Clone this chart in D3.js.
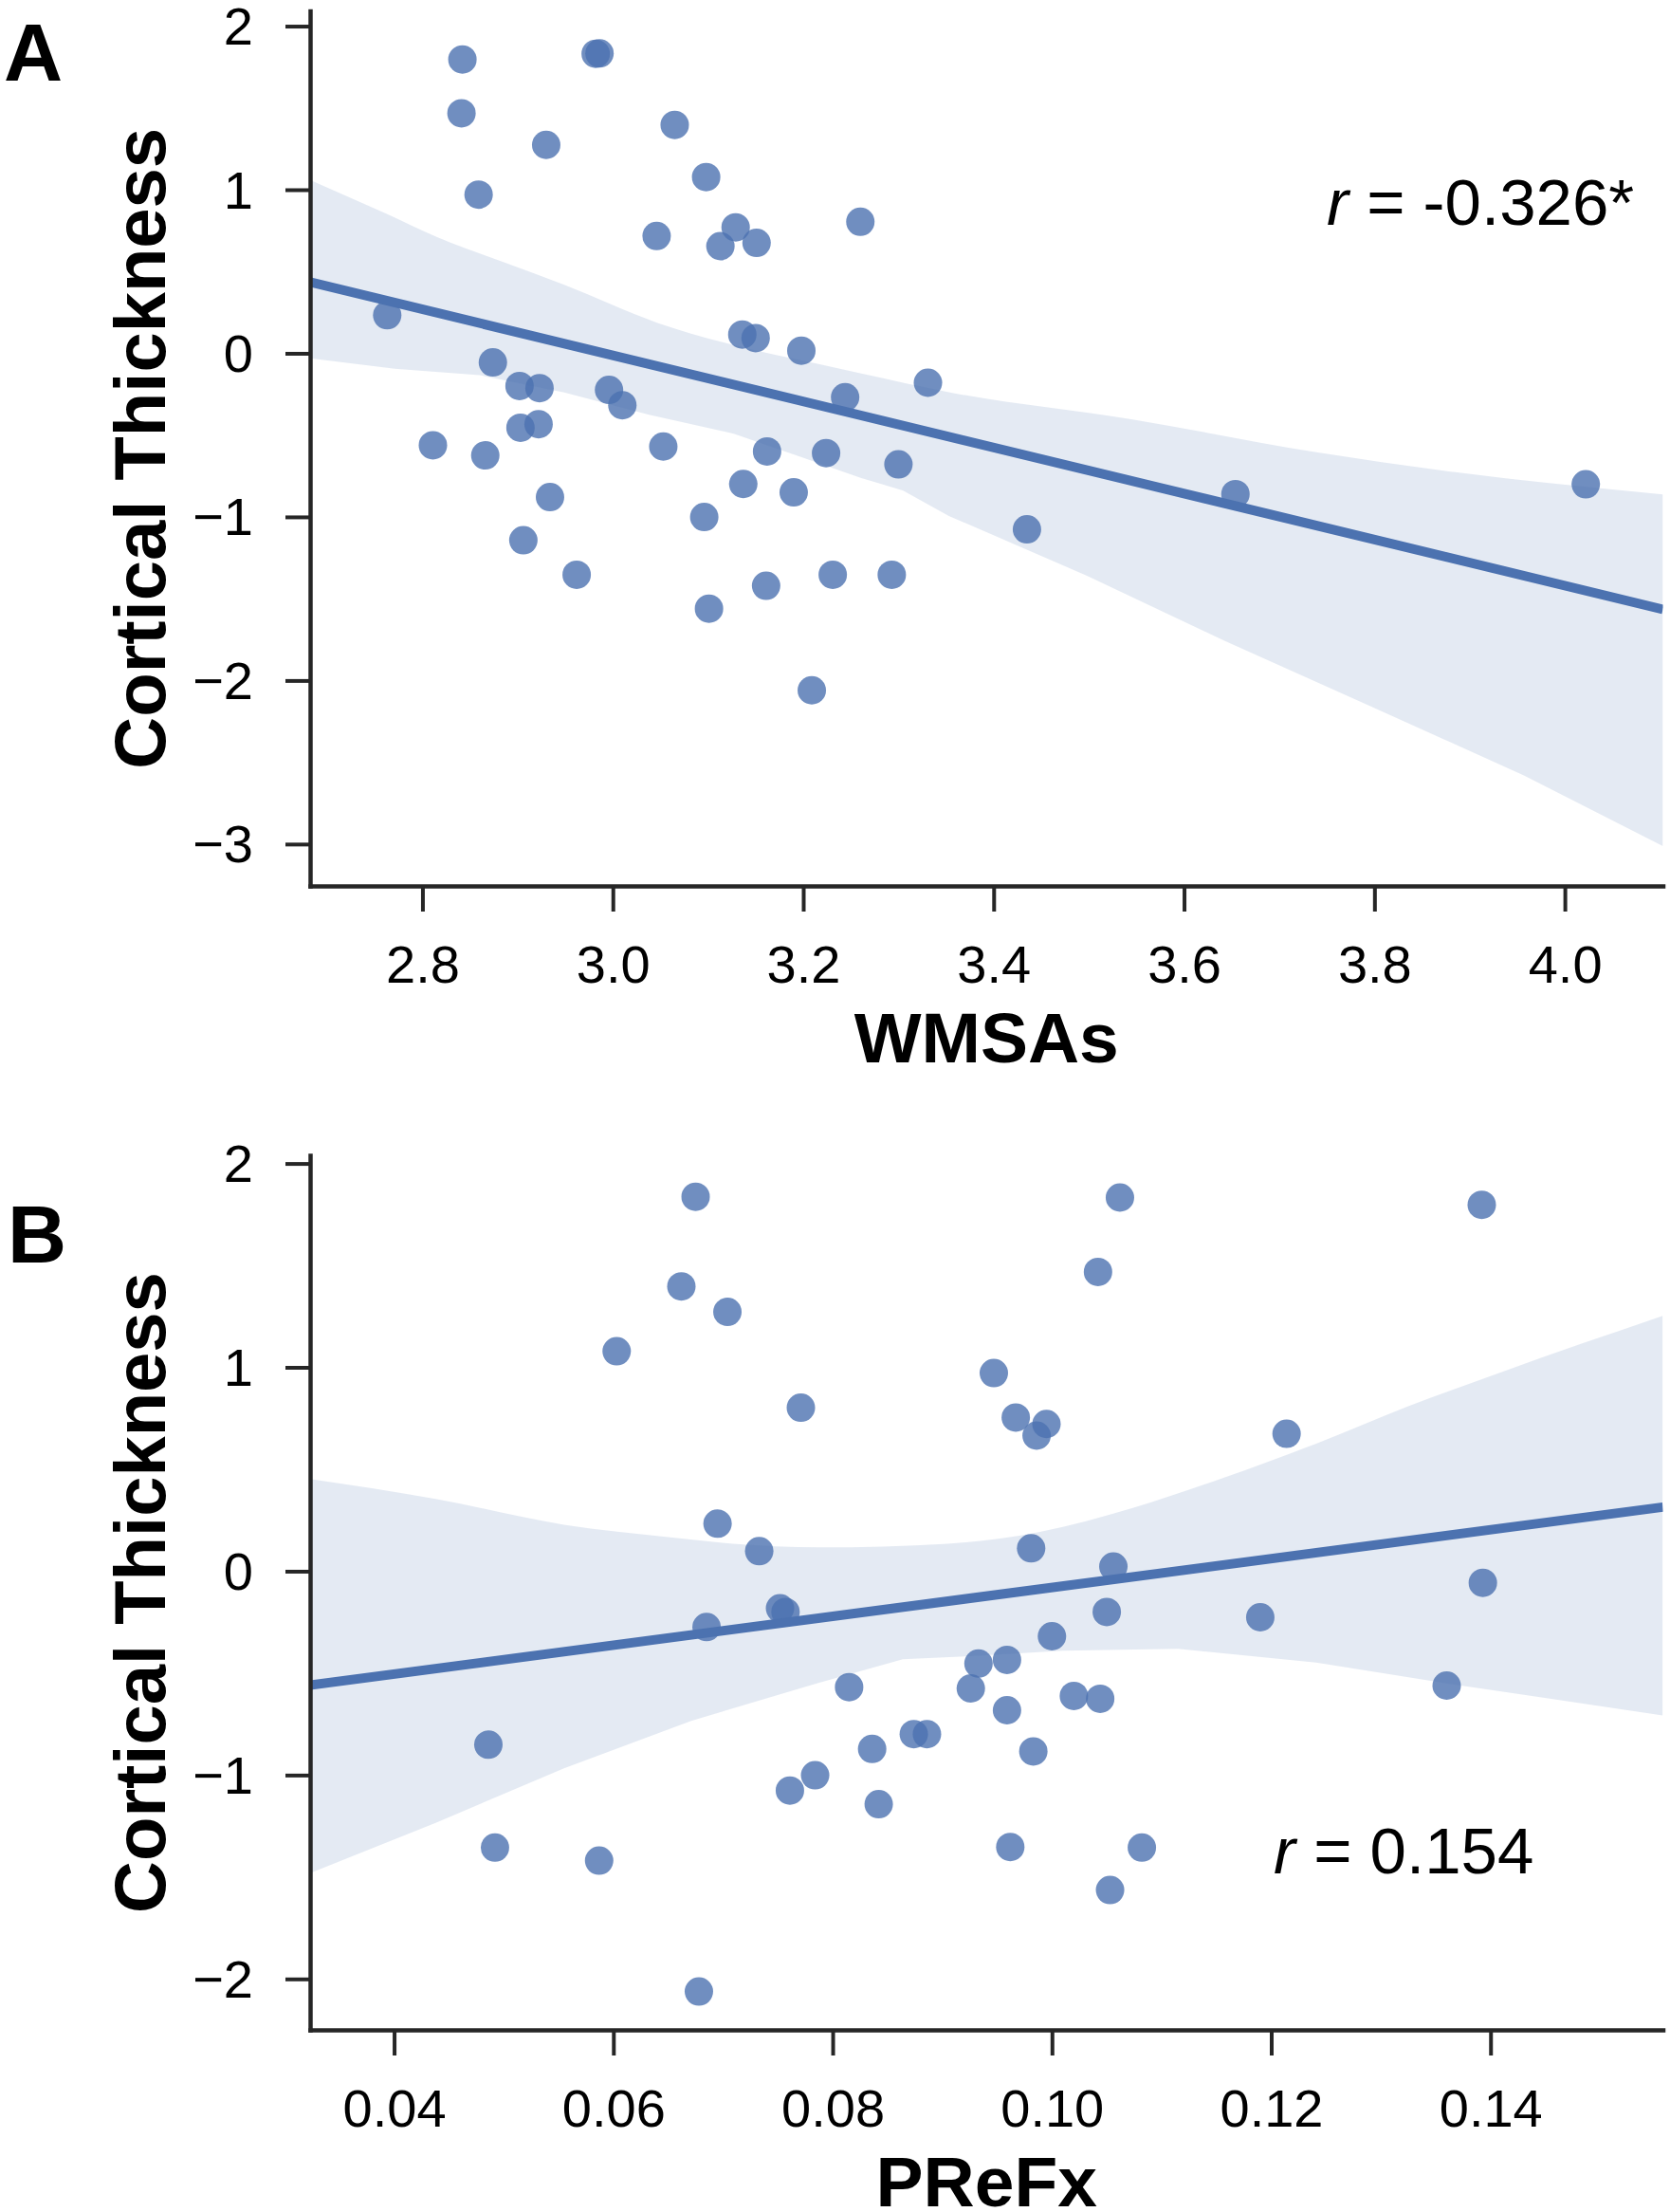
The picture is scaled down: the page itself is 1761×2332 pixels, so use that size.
<!DOCTYPE html>
<html>
<head>
<meta charset="utf-8">
<script src="https://cdn.jsdelivr.net/npm/d3@7"></script>
<style>
  html, body { margin: 0; padding: 0; background: #ffffff; }
  svg { display: block; }
  text { font-family: "Liberation Sans", Arial, Helvetica, sans-serif; fill: #000; }
</style>
</head>
<body>
<svg id="chart" width="1761" height="2332"></svg>
<script>
// ---------------- DATA ----------------
// Panel A: WMSAs vs Cortical Thickness
const wmsas = [2.763, 2.842, 2.841, 2.859, 2.811, 2.874, 2.866, 2.902, 2.923, 2.903,
  2.922, 2.930, 2.934, 2.906, 2.982, 2.986, 2.962, 2.996, 3.010, 3.046,
  3.053, 3.065, 3.098, 3.096, 3.101, 3.113, 3.129, 3.151, 3.136, 3.150,
  3.137, 3.162, 3.161, 3.198, 3.190, 3.209, 3.224, 3.244, 3.231, 3.260,
  3.300, 3.293, 3.331, 3.435, 3.654, 4.022];
const thicknessA = [0.233, 1.796, 1.467, 0.970, -0.562, -0.056, -0.624, -0.200, -0.213, -0.455,
  -0.433, 1.274, -0.879, -1.143, 1.831, 1.833, -1.354, -0.224, -0.317, 0.717,
  -0.570, 1.396, 1.077, -1.001, -1.561, 0.655, 0.770, 0.675, 0.115, 0.093,
  -0.799, -0.600, -1.421, 0.016, -0.850, -2.060, -0.610, -0.269, -1.354, 0.804,
  -0.679, -1.354, -0.180, -1.076, -0.861, -0.801];

// Panel B: PReFx vs Cortical Thickness
const prefx = [0.0675, 0.1062, 0.1392, 0.1042, 0.0662, 0.0704, 0.0603, 0.0947, 0.0771, 0.0967,
  0.0995, 0.0986, 0.1214, 0.0695, 0.0981, 0.0733, 0.1056, 0.1393, 0.0752, 0.0757,
  0.1050, 0.1190, 0.0685, 0.1000, 0.0959, 0.0933, 0.1360, 0.0815, 0.0926, 0.1020,
  0.1044, 0.0959, 0.0874, 0.0886, 0.0486, 0.0836, 0.0983, 0.0784, 0.0761, 0.0842,
  0.0492, 0.0962, 0.1082, 0.0587, 0.1053, 0.0678];
const thicknessB = [1.837, 1.833, 1.797, 1.468, 1.397, 1.272, 1.079, 0.972, 0.802, 0.754,
  0.722, 0.665, 0.674, 0.233, 0.112, 0.098, 0.023, -0.057, -0.182, -0.200,
  -0.200, -0.226, -0.274, -0.319, -0.435, -0.453, -0.561, -0.569, -0.575, -0.612,
  -0.626, -0.682, -0.799, -0.799, -0.851, -0.872, -0.884, -1.001, -1.076, -1.143,
  -1.356, -1.353, -1.356, -1.420, -1.564, -2.062];

// 95% confidence band edges
const bandAUpperX = [2.682, 2.762, 2.816, 2.887, 2.949, 3.047, 3.127, 3.216, 3.261, 3.353, 3.546, 3.739, 3.885, 4.103];
const bandAUpperY = [1.060, 0.853, 0.708, 0.553, 0.418, 0.186, 0.050, -0.066, -0.124, -0.238, -0.405, -0.605, -0.727, -0.862];
const bandALowerX = [2.682, 2.771, 2.860, 2.949, 3.038, 3.127, 3.194, 3.261, 3.305, 3.353, 3.498, 3.643, 3.788, 3.957, 4.103];
const bandALowerY = [-0.031, -0.095, -0.133, -0.240, -0.375, -0.491, -0.626, -0.762, -0.839, -0.994, -1.360, -1.759, -2.137, -2.580, -3.013];

const bandBUpperX = [0.0323, 0.0439, 0.0555, 0.0652, 0.0709, 0.0787, 0.0905, 0.0989, 0.1073, 0.1157, 0.1241, 0.1325, 0.1409, 0.1557];
const bandBUpperY = [0.452, 0.353, 0.228, 0.166, 0.135, 0.117, 0.135, 0.193, 0.309, 0.459, 0.626, 0.809, 0.975, 1.252];
const bandBLowerX = [0.0323, 0.0439, 0.0555, 0.0671, 0.0787, 0.0864, 0.0929, 0.1010, 0.1115, 0.1241, 0.1367, 0.1451, 0.1557];
const bandBLowerY = [-1.482, -1.232, -0.967, -0.734, -0.548, -0.432, -0.416, -0.390, -0.381, -0.448, -0.556, -0.623, -0.707];

// Tick values and labels
const ticksAX = [2.8, 3.0, 3.2, 3.4, 3.6, 3.8, 4.0];
const ticksAXLabels = ["2.8", "3.0", "3.2", "3.4", "3.6", "3.8", "4.0"];
const ticksAY = [2, 1, 0, -1, -2, -3];
const ticksAYLabels = ["2", "1", "0", "\u22121", "\u22122", "\u22123"];
const ticksBX = [0.04, 0.06, 0.08, 0.10, 0.12, 0.14];
const ticksBXLabels = ["0.04", "0.06", "0.08", "0.10", "0.12", "0.14"];
const ticksBY = [2, 1, 0, -1, -2];
const ticksBYLabels = ["2", "1", "0", "\u22121", "\u22122"];

const panelLabels = ["A", "B"];
const xTitles = ["WMSAs", "PReFx"];
const yTitle = "Cortical Thickness";
const rValues = ["-0.326*", "0.154"];

// ---------------- DRAWING ----------------
const BLUE = "#4C72B0";
const AXIS = "#262626";
const svg = d3.select("#chart");
svg.append("rect").attr("width", 1761).attr("height", 2332).attr("fill", "#fff");

function ols(xs, ys) {
  const n = xs.length;
  const mx = d3.mean(xs), my = d3.mean(ys);
  let sxy = 0, sxx = 0;
  for (let i = 0; i < n; i++) { sxy += (xs[i] - mx) * (ys[i] - my); sxx += (xs[i] - mx) ** 2; }
  const b = sxy / sxx;
  return { b: b, a: my - b * mx };
}

function drawPanel(cfg) {
  const x = d3.scaleLinear().domain(cfg.xDomain).range([cfg.left, cfg.right]);
  const y = d3.scaleLinear().domain(cfg.yDomain).range([cfg.bottom, cfg.top]);
  const g = svg.append("g");

  const clipId = "clip" + cfg.id;
  svg.append("clipPath").attr("id", clipId).append("rect")
    .attr("x", cfg.left).attr("y", cfg.top)
    .attr("width", cfg.right - cfg.left).attr("height", cfg.bottom - cfg.top);
  const plot = g.append("g").attr("clip-path", `url(#${clipId})`);

  // scatter
  const pts = cfg.xs.map((v, i) => [v, cfg.ys[i]]);
  plot.append("g").selectAll("circle").data(pts).join("circle")
    .attr("cx", d => x(d[0])).attr("cy", d => y(d[1])).attr("r", 15)
    .attr("fill", BLUE).attr("fill-opacity", 0.8);

  // confidence band
  const up = cfg.bandUX.map((v, i) => [v, cfg.bandUY[i]]);
  const lo = cfg.bandLX.map((v, i) => [v, cfg.bandLY[i]]).reverse();
  const lineGen = d3.line().x(d => x(d[0])).y(d => y(d[1])).curve(d3.curveMonotoneX);
  const lineGenR = d3.line().x(d => x(d[0])).y(d => y(d[1]));
  const upPath = lineGen(up);
  const loPath = lineGenR(lo).replace(/^M/, "L");
  plot.append("path").attr("d", upPath + loPath + "Z")
    .attr("fill", BLUE).attr("fill-opacity", 0.15).attr("stroke", "none");

  // regression line
  const fit = ols(cfg.xs, cfg.ys);
  const dom = cfg.xDomain;
  plot.append("path")
    .attr("d", d3.line().x(d => x(d)).y(d => y(fit.a + fit.b * d))([dom[0], dom[1]]))
    .attr("stroke", BLUE).attr("stroke-width", 10).attr("fill", "none");

  // axes
  const xAxis = d3.axisBottom(x).tickValues(cfg.xTicks)
    .tickFormat((d, i) => cfg.xTickLabels[i]).tickSizeInner(27).tickSizeOuter(0).tickPadding(35);
  const gx = g.append("g").attr("transform", `translate(0,${cfg.bottom})`).call(xAxis);
  const yAxis = d3.axisLeft(y).tickValues(cfg.yTicks)
    .tickFormat((d, i) => cfg.yTickLabels[i]).tickSizeInner(26).tickSizeOuter(0).tickPadding(34);
  const gy = g.append("g").attr("transform", `translate(${cfg.left},0)`).call(yAxis);

  [gx, gy].forEach(ax => {
    ax.select(".domain").attr("stroke", AXIS).attr("stroke-width", 4.5);
    ax.selectAll(".tick line").attr("stroke", AXIS).attr("stroke-width", 4);
    ax.selectAll(".tick text").attr("font-size", 56).attr("fill", "#000")
      .attr("font-family", "'Liberation Sans', Arial, sans-serif");
  });
  gy.selectAll(".tick text").attr("dy", "0.34em");
  gx.select(".domain").attr("stroke-linecap", "square");
  gy.select(".domain").attr("stroke-linecap", "square");

  // titles
  g.append("text").attr("x", (cfg.left + cfg.right) / 2).attr("y", cfg.bottom + 186)
    .attr("text-anchor", "middle").attr("font-size", 75).attr("font-weight", "bold")
    .text(cfg.xTitle);
  const yc = (cfg.top + cfg.bottom) / 2;
  g.append("text").attr("transform", `translate(174,${yc}) rotate(-90)`)
    .attr("text-anchor", "middle").attr("font-size", 76).attr("font-weight", "bold")
    .text(yTitle);
  g.append("text").attr("x", cfg.labelX).attr("y", cfg.labelY)
    .attr("font-size", 86).attr("font-weight", "bold").text(cfg.label);

  // r annotation
  const t = g.append("text").attr("x", cfg.rX).attr("y", cfg.rY).attr("font-size", 69);
  t.append("tspan").attr("font-style", "italic").text("r");
  t.append("tspan").text(" = " + cfg.r);
}

drawPanel({
  id: "A", xs: wmsas, ys: thicknessA,
  left: 327, right: 1753.5, top: 11.5, bottom: 934,
  xDomain: [2.682, 4.103], yDomain: [-3.256, 2.093],
  bandUX: bandAUpperX, bandUY: bandAUpperY, bandLX: bandALowerX, bandLY: bandALowerY,
  xTicks: ticksAX, xTickLabels: ticksAXLabels, yTicks: ticksAY, yTickLabels: ticksAYLabels,
  xTitle: xTitles[0], label: panelLabels[0], labelX: 4, labelY: 85,
  r: rValues[0], rX: 1399, rY: 237
});

drawPanel({
  id: "B", xs: prefx, ys: thicknessB,
  left: 327, right: 1753.5, top: 1218, bottom: 2140,
  xDomain: [0.03234, 0.15572], yDomain: [-2.25, 2.04],
  bandUX: bandBUpperX, bandUY: bandBUpperY, bandLX: bandBLowerX, bandLY: bandBLowerY,
  xTicks: ticksBX, xTickLabels: ticksBXLabels, yTicks: ticksBY, yTickLabels: ticksBYLabels,
  xTitle: xTitles[1], label: panelLabels[1], labelX: 8, labelY: 1331,
  r: rValues[1], rX: 1343, rY: 1975
});
</script>
</body>
</html>
